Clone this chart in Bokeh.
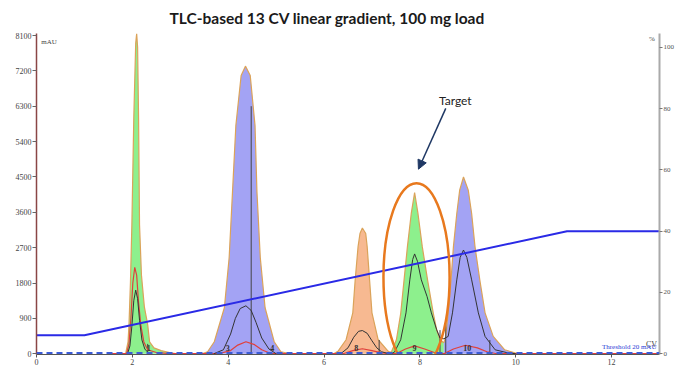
from bokeh.plotting import figure
from bokeh.models import Range1d, LinearAxis, FixedTicker, Label, Arrow, NormalHead, Span
from bokeh.core.properties import value
from bokeh.embed import file_html
from bokeh.resources import INLINE

title_text = "TLC-based 13 CV linear gradient, 100 mg load"

# ---- main UV trace, per collected peak (CV, mAU) ----
p1_cv = [1.86, 1.91, 1.93, 1.96, 1.99, 2.03, 2.07, 2.09, 2.11, 2.13, 2.15, 2.19, 2.25, 2.32, 2.36, 2.45, 2.6, 2.8, 2.9]
p1_mau = [0, 300, 740, 1800, 3280, 6000, 7900, 8150, 7800, 6000, 3280, 2000, 1200, 740, 300, 150, 80, 20, 0]

p2_cv = [3.45, 3.57, 3.71, 3.92, 4.02, 4.09, 4.16, 4.27, 4.36, 4.46, 4.56, 4.60, 4.67, 4.77, 4.96, 5.1, 5.3]
p2_mau = [0, 50, 305, 1170, 2440, 4120, 5810, 7080, 7320, 7080, 5810, 4120, 2440, 1170, 305, 50, 0]

p3_cv = [6.2, 6.29, 6.46, 6.60, 6.65, 6.71, 6.75, 6.80, 6.87, 6.90, 6.95, 7.00, 7.13, 7.34, 7.45]
p3_mau = [0, 60, 355, 1040, 1880, 2725, 3060, 3200, 3060, 2725, 1880, 1040, 355, 60, 0]

p4_cv = [7.35, 7.41, 7.51, 7.60, 7.67, 7.74, 7.82, 7.89, 7.96, 8.05, 8.16, 8.28, 8.35, 8.42, 8.5]
p4_mau = [0, 60, 355, 1030, 1880, 2725, 3570, 4100, 3570, 2725, 1880, 1030, 610, 355, 280]

p5_cv = [8.5, 8.54, 8.59, 8.65, 8.70, 8.77, 8.83, 8.91, 9.01, 9.08, 9.15, 9.25, 9.36, 9.53, 9.77, 9.98, 10.1]
p5_mau = [280, 440, 1040, 1880, 2725, 3570, 4160, 4500, 4160, 3570, 2725, 1880, 1040, 440, 100, 20, 0]

# ---- second wavelength trace (black) ----
blk1_cv = [1.90, 1.95, 1.99, 2.03, 2.07, 2.11, 2.15, 2.2, 2.26, 2.35]
blk1_mau = [0, 200, 700, 1350, 1620, 1400, 850, 350, 120, 0]
blk2_cv = [3.7, 3.9, 4.05, 4.15, 4.25, 4.37, 4.48, 4.58, 4.7, 4.85, 5.0]
blk2_mau = [0, 100, 500, 900, 1150, 1220, 1100, 800, 400, 120, 0]
blk3_cv = [6.35, 6.5, 6.62, 6.72, 6.80, 6.9, 7.0, 7.1, 7.2, 7.35]
blk3_mau = [0, 150, 420, 570, 590, 520, 330, 150, 50, 0]
blk4_cv = [7.40, 7.47, 7.60, 7.71, 7.79, 7.85, 7.89, 7.95, 8.03, 8.15, 8.24, 8.35, 8.42, 8.5,
           8.59, 8.68, 8.77, 8.84, 8.91, 8.98, 9.08, 9.22, 9.36, 9.57, 9.84, 10.0]
blk4_mau = [0, 40, 355, 1040, 1880, 2400, 2540, 2350, 1880, 1455, 1040, 610, 400, 380,
            440, 1040, 1880, 2450, 2640, 2450, 1880, 1040, 440, 100, 20, 0]

# ---- third trace (red) ----
red_cv = [1.5, 1.88, 1.93, 1.97, 2.01, 2.05, 2.09, 2.13, 2.18, 2.24, 2.32, 2.5, 2.8, 3.8,
          4.05, 4.2, 4.37, 4.55, 4.7, 4.9, 6.4, 6.6, 6.8, 7.0, 7.2, 7.4,
          7.5, 7.7, 7.89, 8.1, 8.3, 8.45, 8.5, 8.7, 8.95, 9.2, 9.4, 9.6, 13.0]
red_mau = [0, 0, 250, 900, 1800, 2200, 2000, 1300, 700, 300, 100, 30, 0, 0,
           80, 220, 305, 230, 100, 0, 0, 80, 127, 80, 20, 0,
           0, 120, 200, 120, 30, 0, 0, 120, 215, 150, 50, 0, 0]

# ---- fraction cut marks and numbers ----
frac_cv = [2.32, 4.48, 7.15, 8.42, 8.54, 9.46]
frac_top = [250, 6300, 350, 600, 800, 350]
frac_lab_cv = [2.34, 3.99, 4.92, 6.67, 7.89, 8.99]
frac_labels = ["1", "3", "4", "8", "9", "10"]

# ---- gradient (%B) ----
grad_cv = [0, 1.0, 11.07, 13.0]
grad_pct = [6, 6, 40, 40]

threshold_mau = 20
mau_ticks = [0, 900, 1800, 2700, 3600, 4500, 5400, 6300, 7200, 8100]
pct_ticks = [0, 20, 40, 60, 80, 100]
cv_ticks = [0, 2, 4, 6, 8, 10, 12]

# target annotation (ellipse centre / size in CV, mAU)
target_cv = [7.93]
target_mau = [1955]
target_w = 1.38
target_h = 4773

p = figure(width=677, height=372, output_backend="svg", toolbar_location=None,
           x_range=Range1d(0, 13.0), y_range=Range1d(-20, 8151),
           min_border_left=36, min_border_right=16, min_border_top=33, min_border_bottom=18)
p.extra_y_ranges = {"pct": Range1d(-0.26, 104.57)}
p.grid.visible = False
p.outline_line_color = None
p.background_fill_color = "white"

p.title.text = title_text
p.title.text_font = "Lato"
p.title.text_font_style = "bold"
p.title.text_font_size = "15.5px"
p.title.text_color = "#1a1a1a"
p.title.align = "left"
p.title.offset = 133
p.title.standoff = 13

tick_font = "Liberation Serif"
xa = p.xaxis[0]
xa.ticker = FixedTicker(ticks=cv_ticks)
xa.axis_line_color = "#555555"
xa.major_tick_line_color = "#555555"
xa.major_tick_out = 3
xa.major_tick_in = 0
xa.minor_tick_line_color = None
xa.major_label_standoff = 1
xa.major_label_text_font = tick_font
xa.major_label_text_font_size = "8px"
xa.major_label_text_color = "#444444"

ya = p.yaxis[0]
ya.ticker = FixedTicker(ticks=mau_ticks)
ya.axis_line_color = "#8a4646"
ya.axis_line_width = 1.5
ya.major_tick_line_color = "#666666"
ya.major_tick_out = 4
ya.major_tick_in = 0
ya.minor_tick_line_color = None
ya.major_label_standoff = 1
ya.major_label_text_font = tick_font
ya.major_label_text_font_size = "8px"
ya.major_label_text_color = "#444444"

ra = LinearAxis(y_range_name="pct", ticker=FixedTicker(ticks=pct_ticks))
ra.axis_line_color = "#aaaaaa"
ra.axis_line_width = 2
ra.major_tick_line_color = "#777777"
ra.major_tick_out = 3
ra.major_tick_in = 0
ra.minor_tick_line_color = None
ra.major_label_standoff = 1
ra.major_label_text_font = tick_font
ra.major_label_text_font_size = "7px"
ra.major_label_text_color = "#555555"
p.add_layout(ra, "right")

outline = "#dba35a"
for cv, mau, col in [(p1_cv, p1_mau, "#8df08d"), (p2_cv, p2_mau, "#a3a3f4"),
                     (p3_cv, p3_mau, "#f7b991"), (p4_cv, p4_mau, "#8df08d"),
                     (p5_cv, p5_mau, "#a3a3f4")]:
    p.varea(x=cv, y1=[0] * len(cv), y2=mau, fill_color=col)
    p.line(cv, mau, line_color=outline, line_width=1.2)

# fraction cut lines
p.segment(x0=frac_cv, y0=[0] * len(frac_cv), x1=frac_cv, y1=frac_top,
          line_color="#444444", line_width=1)

# red and black traces
p.line(red_cv, red_mau, line_color="#e0403c", line_width=1.2)
for cv, mau in [(blk1_cv, blk1_mau), (blk2_cv, blk2_mau), (blk3_cv, blk3_mau), (blk4_cv, blk4_mau)]:
    p.line(cv, mau, line_color="#333333", line_width=1)

p.text(x=frac_lab_cv, y=[150] * len(frac_lab_cv), text=frac_labels,
       text_font=value(tick_font), text_font_size="8px", text_color="#333333",
       text_align="center", text_baseline="middle", text_font_style="bold")

# threshold baseline
p.add_layout(Span(location=threshold_mau, dimension="width", line_color="#3b5bd6",
                  line_width=2, line_dash="6 4"))

# gradient
p.line(grad_cv, grad_pct, y_range_name="pct", line_color="#2a2ae6", line_width=2)

# target ellipse & arrow
p.ellipse(x=target_cv, y=target_mau, width=target_w, height=target_h,
          fill_color=None, line_color="#e8791e", line_width=2.5)
p.add_layout(Arrow(end=NormalHead(size=9, fill_color="#1f3864", line_color="#1f3864"),
                   x_start=8.54, y_start=6246, x_end=7.97, y_end=4697,
                   line_color="#1f3864", line_width=1.5))
p.add_layout(Label(x=8.74, y=6450, text="Target", text_font="Lato", text_font_size="12px",
                   text_color="#222222", text_align="center", text_baseline="middle"))

# axis unit labels
p.add_layout(Label(x=0.1, y=7930, text="mAU", text_font=tick_font, text_font_size="7px",
                   text_color="#444444", text_baseline="middle"))
p.add_layout(Label(x=12.9, y=8000, text="%", text_font=tick_font, text_font_size="7px",
                   text_color="#444444", text_baseline="middle", text_align="right"))
p.add_layout(Label(x=12.95, y=120, text="CV", text_font=tick_font, text_font_size="8px",
                   text_color="#444444", text_baseline="bottom", text_align="right"))
p.add_layout(Label(x=11.8, y=60, text="Threshold 20 mAU", text_font=tick_font,
                   text_font_size="7px", text_color="#2a3bd6", text_baseline="bottom"))

open("out.html", "w").write(file_html(p, INLINE))
